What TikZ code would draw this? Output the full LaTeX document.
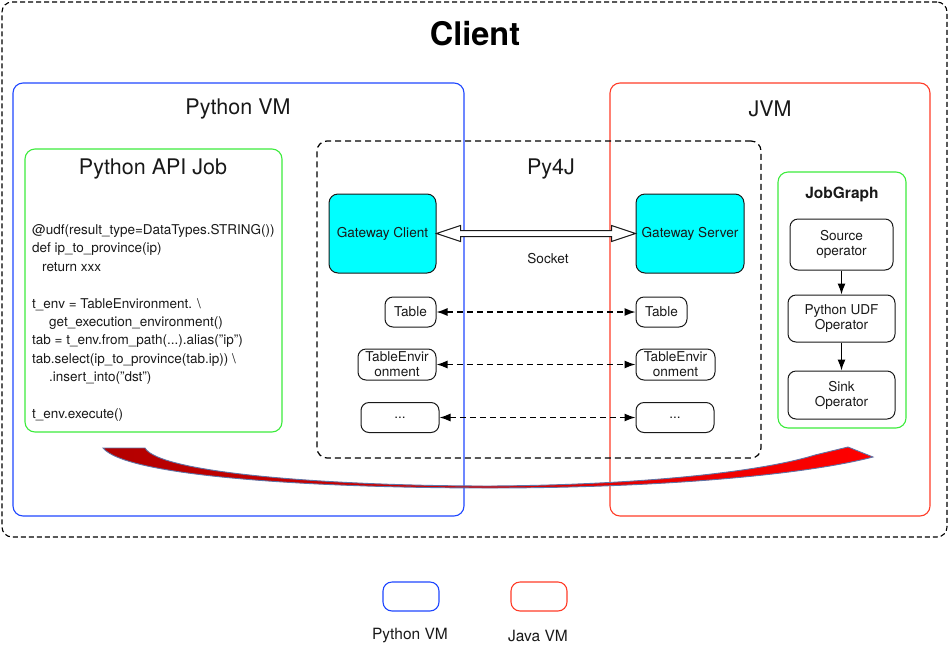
\documentclass[tikz,border=0pt]{standalone}
\usepackage{fontspec}
\setmainfont{TeX Gyre Heros}
\usetikzlibrary{arrows.meta,calc}
\definecolor{vmblue}{RGB}{30,70,255}
\definecolor{vmred}{RGB}{255,60,40}
\definecolor{jobgreen}{RGB}{60,235,60}
\definecolor{gwcyan}{RGB}{0,255,255}
\definecolor{textgray}{RGB}{25,25,25}
\definecolor{arrowedge}{RGB}{95,115,165}
\tikzset{
  vmbox/.style={draw, rounded corners=10pt, line width=1.1pt, inner sep=0pt},
  jobbox/.style={draw=jobgreen, rounded corners=10pt, line width=1.1pt, inner sep=0pt},
  gwbox/.style={draw=textgray, fill=gwcyan, rounded corners=9pt, line width=1pt,
    font=\fontsize{13.6}{15}\selectfont, text=textgray},
  objbox/.style={draw=textgray, rounded corners=8pt, line width=1pt, inner sep=1pt,
    align=center, font=\fontsize{13.6}{15}\selectfont, text=textgray},
  title/.style={font=\fontsize{21.5}{25}\selectfont, text=textgray},
  label/.style={font=\fontsize{13.6}{15}\selectfont, text=textgray},
  link/.style={dash pattern=on 6pt off 4pt, line width=1.3pt, black,
    {Latex[length=11pt,width=8pt]}-{Latex[length=11pt,width=8pt]}},
  flow/.style={line width=1.2pt, black, -{Latex[length=11pt,width=8pt]}}
}
\begin{document}
\begin{tikzpicture}[x=1pt,y=-1pt]
  \useasboundingbox (0,0) rectangle (950,654);
  % outer client frame
  \node[draw, dash pattern=on 5pt off 3pt, rounded corners=10pt, line width=1.1pt, minimum width=945pt, minimum height=535pt] (client) at (474.5,269.5) {};
  \node[font=\bfseries\fontsize{32.5}{36}\selectfont] (clienttitle) at (475,34) {Client};
  % the two VMs
  \node[vmbox, draw=vmblue, minimum width=451pt, minimum height=433pt] (pyvm) at (238.5,299.5) {};
  \node[title] (pyvmtitle) at (238,109) {Python VM};
  \node[vmbox, draw=vmred, minimum width=320pt, minimum height=433pt] (jvm) at (770,299.5) {};
  \node[title] (jvmtitle) at (770,109) {JVM};
  % py4j bridge
  \node[draw=black, dash pattern=on 6pt off 4pt, rounded corners=10pt, line width=1.2pt, minimum width=444pt, minimum height=317pt] (py4j) at (539,299.5) {};
  \node[title] (py4jtitle) at (551,169) {Py4J};
  % python job
  \node[jobbox, minimum width=257pt, minimum height=283pt] (apijob) at (153.5,290.5) {};
  \node[title] (apijobtitle) at (153,169) {Python API Job};
  \node[anchor=base west, align=left, inner sep=0pt, text=textgray,
    font=\fontsize{13.5}{18.4}\selectfont] (code) at (32,418.5) {%
    @udf(result\_type=DataTypes.STRING())\\
    def ip\_to\_province(ip)\\
    \hspace*{10pt}return xxx\\
    \mbox{}\\
    t\_env = TableEnvironment. \textbackslash\\
    \hspace*{17pt}get\_execution\_environment()\\
    tab = t\_env.from\_path(...).alias("ip")\\
    tab.select(ip\_to\_province(tab.ip)) \textbackslash\\
    \hspace*{17pt}.insert\_into("dst")\\
    \mbox{}\\
    t\_env.execute()};
  % gateways
  \node[gwbox, minimum width=107pt, minimum height=79pt] (gwc) at (382.5,233.5) {Gateway Client};
  \node[gwbox, minimum width=108pt, minimum height=79pt] (gws) at (690,233.5) {Gateway Server};
  \draw[line width=1pt, textgray, fill=white] (gwc.east) -- ++(24,-8) -- ++(0,5)
    -- ($(gws.west)+(-24,-3)$) -- ++(0,-5) -- (gws.west) -- ++(-24,8) -- ++(0,-5)
    -- ($(gwc.east)+(24,3)$) -- ++(0,5) -- cycle;
  \node[label] (socket) at (548,259) {Socket};
  % proxied objects
  \node[objbox, minimum width=51pt, minimum height=30pt] (tabl) at (410.5,312) {Table};
  \node[objbox, minimum width=51pt, minimum height=30pt] (tabr) at (661.5,312) {Table};
  \node[objbox, minimum width=78pt, minimum height=31pt] (envl) at (397,364.5) {TableEnvir\\onment};
  \node[objbox, minimum width=79pt, minimum height=31pt] (envr) at (675.5,364.5) {TableEnvir\\onment};
  \node[objbox, minimum width=78pt, minimum height=30pt] (dotl) at (400,417.5) {...};
  \node[objbox, minimum width=78pt, minimum height=30pt] (dotr) at (675,417.5) {...};
  \foreach \l/\r in {tabl/tabr,envl/envr,dotl/dotr}
    \draw[link] (\l) -- (\r);
  % job graph
  \node[jobbox, minimum width=128pt, minimum height=256pt] (jobgraph) at (842,300) {};
  \node[font=\bfseries\fontsize{15.5}{18}\selectfont, text=textgray] (jobgraphtitle) at (842,194) {JobGraph};
  \node[objbox, minimum width=103pt, minimum height=51pt] (src) at (841.5,244.5) {Source\\operator};
  \node[objbox, minimum width=107pt, minimum height=47pt] (udf) at (841.5,318.5) {Python UDF\\Operator};
  \node[objbox, minimum width=107pt, minimum height=48pt] (sink) at (841.5,395) {Sink\\Operator};
  \draw[flow] (src) -- (udf);
  \draw[flow] (udf) -- (sink);
  % python to java sweep
  \shade[left color=red!70!black, right color=red, draw=arrowedge, line width=0.9pt]
    (103,448) .. controls (128,478) and (330,488) .. (490,488)
    .. controls (650,488) and (800,476) .. (873,457) -- (848,447) -- (815,455)
    .. controls (760,472) and (640,485) .. (490,486)
    .. controls (340,486) and (160,474) .. (145,448) -- cycle;
  % legend
  \node[vmbox, draw=vmblue, rounded corners=9pt, minimum width=56pt, minimum height=29pt] (legpy) at (411,596.5) {};
  \node[vmbox, draw=vmred, rounded corners=9pt, minimum width=56pt, minimum height=29pt] (legjava) at (539,596.5) {};
  \node[font=\fontsize{15.5}{18}\selectfont, text=textgray] (legpytext) at (410,636) {Python VM};
  \node[font=\fontsize{15.5}{18}\selectfont, text=textgray] (legjavatext) at (538,636) {Java VM};
\end{tikzpicture}
\end{document}
